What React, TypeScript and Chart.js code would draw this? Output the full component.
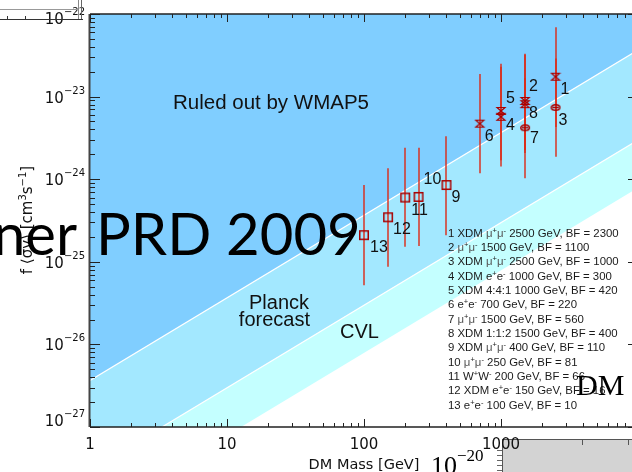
import React, { useEffect, useRef } from "react";
import { Chart, registerables } from "chart.js";

Chart.register(...registerables);

// ---------------- data ----------------
const POINT_LABELS = ["1", "2", "3", "4", "5", "6", "7", "8", "9", "10", "11", "12", "13"];
const DM_MASS_GEV = [2500, 1500, 2500, 1000, 1000, 700, 1500, 1500, 400, 250, 200, 150, 100];
const F_SIGMA_V = [1.74e-23, 8.85e-24, 7.4e-24, 5.7e-24, 6.7e-24, 4.7e-24, 4.2e-24, 8.1e-24, 8.5e-25, 6.1e-25, 6.0e-25, 3.46e-25, 2.1e-25];
const F_SIGMA_V_HIGH = [6.9e-23, 3.3e-23, 2.9e-23, 2.3e-23, 2.5e-23, 1.88e-23, 1.67e-23, 3.2e-23, 3.3e-24, 2.4e-24, 2.4e-24, 1.36e-24, 8.5e-25];
const F_SIGMA_V_LOW = [4.3e-24, 2.26e-24, 1.87e-24, 1.42e-24, 1.7e-24, 1.18e-24, 1.03e-24, 2.07e-24, 2.1e-25, 1.55e-25, 1.52e-25, 8.7e-26, 5.2e-26];
const MARKER_KIND = ["hourglass", "hourglass", "ellipse", "hourglass", "hourglass", "hourglass", "ellipse", "hourglass", "square", "square", "square", "square", "square"];

const LEGEND_ENTRIES = [
  "1 XDM μ^+μ^- 2500 GeV, BF = 2300",
  "2 μ^+μ^- 1500 GeV, BF = 1100",
  "3 XDM μ^+μ^- 2500 GeV, BF = 1000",
  "4 XDM e^+e^- 1000 GeV, BF = 300",
  "5 XDM 4:4:1 1000 GeV, BF = 420",
  "6 e^+e^- 700 GeV, BF = 220",
  "7 μ^+μ^- 1500 GeV, BF = 560",
  "8 XDM 1:1:2 1500 GeV, BF = 400",
  "9 XDM μ^+μ^- 400 GeV, BF = 110",
  "10 μ^+μ^- 250 GeV, BF = 81",
  "11 W^+W^- 200 GeV, BF = 66",
  "12 XDM e^+e^- 150 GeV, BF = 16",
  "13 e^+e^- 100 GeV, BF = 10",
];

// constraint bands: f<σv> limits at the band end masses
const BAND_MASS = [1, 10000];
const WMAP5_LIMIT = [3.66e-27, 3.66e-23];
const PLANCK_LIMIT = [2.98e-28, 2.98e-24];
const CVL_LIMIT = [7.9e-29, 7.9e-25];

const X_TICK_VALUES = [1, 10, 100, 1000];
const X_TICK_LABELS = ["1", "10", "100", "1000"];
const Y_TICK_EXPONENTS = [-22, -23, -24, -25, -26, -27];

// ---------------- styles / positions ----------------
const LABEL_DX = [5, 4, 3, 5, 5, 5, 5, 4, 5, 5, 6, 5, 6];
const LABEL_DY = [13, -14, 13, 9, -12, 13, 11, 9, 13, -17, 13, 12, 12];

const COL_RULED = "rgb(128,206,255)";
const COL_PLANCK = "rgb(163,232,255)";
const COL_CVL = "rgb(196,255,255)";
const MARKER_COLOR = "#a80000";
const ERR_COLOR = "rgba(220,40,20,0.7)";
const AXIS_FONT = '"DejaVu Sans", sans-serif';
const PLOT_FONT = '"Liberation Sans", Arial, sans-serif';

function makeMarker(kind: string): HTMLCanvasElement {
  const c = document.createElement("canvas");
  if (kind === "hourglass") {
    c.width = 12; c.height = 10;
  } else if (kind === "ellipse") {
    c.width = 12; c.height = 9;
  } else {
    c.width = 12; c.height = 12;
  }
  const g = c.getContext("2d")!;
  g.strokeStyle = MARKER_COLOR;
  g.lineWidth = kind === "hourglass" ? 1.2 : 1.5;
  g.beginPath();
  if (kind === "hourglass") {
    g.moveTo(2, 1.5); g.lineTo(10, 1.5); g.lineTo(2, 8.5); g.lineTo(10, 8.5); g.closePath();
  } else if (kind === "ellipse") {
    g.ellipse(6, 4.5, 4.3, 2.8, 0, 0, Math.PI * 2);
    g.moveTo(3, 4.5); g.lineTo(9, 4.5);
  } else {
    g.rect(1.75, 1.75, 8.5, 8.5);
  }
  g.stroke();
  return c;
}

function drawPow(ctx: CanvasRenderingContext2D, rightX: number, baseline: number, exp: number) {
  const base = "10";
  const sup = "\u2212" + String(Math.abs(exp));
  ctx.font = "15px " + AXIS_FONT;
  const wb = ctx.measureText(base).width;
  ctx.font = "10px " + AXIS_FONT;
  const ws = ctx.measureText(sup).width;
  const left = rightX - wb - ws;
  ctx.textAlign = "left";
  ctx.textBaseline = "alphabetic";
  ctx.font = "15px " + AXIS_FONT;
  ctx.fillText(base, left, baseline);
  ctx.font = "10px " + AXIS_FONT;
  ctx.fillText(sup, left + wb, baseline - 9);
}

const customPlugin = {
  id: "customDraw",
  beforeDatasetsDraw(chart: any) {
    const { ctx, chartArea: a, scales } = chart;
    const xs = scales.x, ys = scales.y;
    ctx.save();
    ctx.beginPath();
    ctx.rect(a.left, a.top, a.right - a.left, a.bottom - a.top);
    ctx.clip();
    const px = BAND_MASS.map((m) => xs.getPixelForValue(m));
    const py = (arr: number[]) => arr.map((v) => ys.getPixelForValue(v));
    const w = py(WMAP5_LIMIT), p = py(PLANCK_LIMIT), c = py(CVL_LIMIT);
    const poly = (pts: number[][], col: string) => {
      ctx.beginPath();
      ctx.moveTo(pts[0][0], pts[0][1]);
      for (let i = 1; i < pts.length; i++) ctx.lineTo(pts[i][0], pts[i][1]);
      ctx.closePath();
      ctx.fillStyle = col;
      ctx.fill();
    };
    poly([[px[0], a.top - 50], [px[1], a.top - 50], [px[1], w[1]], [px[0], w[0]]], COL_RULED);
    poly([[px[0], w[0]], [px[1], w[1]], [px[1], p[1]], [px[0], p[0]]], COL_PLANCK);
    poly([[px[0], p[0]], [px[1], p[1]], [px[1], c[1]], [px[0], c[0]]], COL_CVL);
    ctx.strokeStyle = "#ffffff";
    ctx.lineWidth = 1.2;
    for (const l of [w, p]) {
      ctx.beginPath();
      ctx.moveTo(px[0], l[0]);
      ctx.lineTo(px[1], l[1]);
      ctx.stroke();
    }
    // region labels
    ctx.fillStyle = "#111";
    ctx.textBaseline = "alphabetic";
    ctx.font = "20.5px " + PLOT_FONT;
    ctx.textAlign = "left";
    ctx.fillText("Ruled out by WMAP5", 173, 109);
    ctx.font = "20px " + PLOT_FONT;
    ctx.textAlign = "right";
    ctx.fillText("Planck", 309, 309);
    ctx.fillText("forecast", 310, 326);
    ctx.textAlign = "left";
    ctx.fillText("CVL", 340, 338);
    // error bars
    ctx.strokeStyle = ERR_COLOR;
    ctx.lineWidth = 2;
    for (let i = 0; i < DM_MASS_GEV.length; i++) {
      const x = Math.round(xs.getPixelForValue(DM_MASS_GEV[i]));
      ctx.beginPath();
      ctx.moveTo(x, ys.getPixelForValue(F_SIGMA_V_HIGH[i]));
      ctx.lineTo(x, ys.getPixelForValue(F_SIGMA_V_LOW[i]));
      ctx.stroke();
    }
    ctx.restore();
  },
  afterDatasetsDraw(chart: any) {
    const { ctx, chartArea: a, scales } = chart;
    const xs = scales.x, ys = scales.y;
    ctx.save();
    // point labels
    ctx.fillStyle = "#111";
    ctx.font = "16px " + PLOT_FONT;
    ctx.textAlign = "left";
    ctx.textBaseline = "middle";
    for (let i = 0; i < DM_MASS_GEV.length; i++) {
      const x = xs.getPixelForValue(DM_MASS_GEV[i]);
      const y = ys.getPixelForValue(F_SIGMA_V[i]);
      ctx.fillText(POINT_LABELS[i], x + LABEL_DX[i], y + LABEL_DY[i]);
    }
    // axes frame
    ctx.strokeStyle = "#222";
    ctx.lineWidth = 1.5;
    ctx.beginPath();
    ctx.moveTo(a.left, a.top); ctx.lineTo(a.right, a.top);
    ctx.moveTo(a.left, a.bottom); ctx.lineTo(a.right, a.bottom);
    ctx.moveTo(a.right, a.top); ctx.lineTo(a.right, a.bottom);
    ctx.stroke();
    ctx.strokeStyle = "#444";
    ctx.lineWidth = 2;
    ctx.beginPath();
    ctx.moveTo(a.left - 0.5, a.top); ctx.lineTo(a.left - 0.5, a.bottom);
    ctx.stroke();
    // ticks
    ctx.strokeStyle = "#222";
    ctx.lineWidth = 1;
    ctx.beginPath();
    for (let d = 0; d <= 4; d++) {
      for (let k = 1; k <= 9; k++) {
        const v = k * Math.pow(10, d);
        if (v < 1 || v > 10000) continue;
        const x = Math.round(xs.getPixelForValue(v)) + 0.5;
        const len = k === 1 ? 8 : 4;
        ctx.moveTo(x, a.bottom); ctx.lineTo(x, a.bottom - len);
        ctx.moveTo(x, a.top); ctx.lineTo(x, a.top + len);
      }
    }
    for (let d = -27; d <= -22; d++) {
      for (let k = 1; k <= 9; k++) {
        if (d === -22 && k > 1) continue;
        const v = k * Math.pow(10, d);
        const y = Math.round(ys.getPixelForValue(v)) + 0.5;
        const len = k === 1 ? 10 : 5;
        ctx.moveTo(a.left, y); ctx.lineTo(a.left + len, y);
        ctx.moveTo(a.right, y); ctx.lineTo(a.right - len, y);
      }
    }
    ctx.stroke();
    // tick labels
    ctx.fillStyle = "#111";
    for (const e of Y_TICK_EXPONENTS) {
      const y = ys.getPixelForValue(Math.pow(10, e));
      const base = Math.min(Math.max(y + 6, 24), 426);
      drawPow(ctx, a.left - 5, base, e);
    }
    ctx.font = "15px " + AXIS_FONT;
    ctx.textAlign = "center";
    ctx.textBaseline = "alphabetic";
    X_TICK_VALUES.forEach((v, i) => {
      ctx.fillText(X_TICK_LABELS[i], xs.getPixelForValue(v), 449);
    });
    ctx.font = "14.5px " + AXIS_FONT;
    ctx.fillText("DM Mass [GeV]", (a.left + xs.getPixelForValue(10000)) / 2, 469);
    ctx.restore();
  },
};

function LegendLine({ text }: { text: string }) {
  const parts = text.split(/(\^[+\-]|μ)/);
  return (
    <>
      {parts.map((p, i) => {
        if (p === "^+" || p === "^-")
          return (
            <span key={i} style={{ fontSize: 7.5, position: "relative", top: -4 }}>
              {p === "^+" ? "+" : "-"}
            </span>
          );
        if (p === "μ") return <span key={i} style={{ color: "#555" }}>μ</span>;
        return <span key={i}>{p}</span>;
      })}
    </>
  );
}

export default function App() {
  const ref = useRef<HTMLCanvasElement | null>(null);
  useEffect(() => {
    document.body.style.margin = "0";
    const canvas = ref.current!;
    const markers: Record<string, HTMLCanvasElement> = {
      hourglass: makeMarker("hourglass"),
      ellipse: makeMarker("ellipse"),
      square: makeMarker("square"),
    };
    const chart = new Chart(canvas, {
      type: "scatter",
      data: {
        datasets: [
          {
            data: DM_MASS_GEV.map((m, i) => ({ x: m, y: F_SIGMA_V[i] })),
            pointStyle: MARKER_KIND.map((k) => markers[k]) as any,
            pointRadius: 5,
            showLine: false,
          },
        ],
      },
      options: {
        responsive: false,
        animation: false,
        events: [],
        layout: { padding: { left: 90, right: 22, top: 14, bottom: 45 } },
        plugins: { legend: { display: false }, tooltip: { enabled: false } },
        scales: {
          x: { type: "logarithmic", min: 1, max: 10000, display: false },
          y: { type: "logarithmic", min: 1e-27, max: 1e-22, display: false },
        },
      },
      plugins: [customPlugin],
    });
    return () => chart.destroy();
  }, []);

  const abs = (s: React.CSSProperties): React.CSSProperties => ({ position: "absolute", ...s });

  return (
    <div style={{ position: "fixed", left: 0, top: 0, width: 632, height: 472, overflow: "hidden", background: "#fff" }}>
      {/* grey panel at lower right (behind chart) */}
      <div style={abs({ left: 502, top: 439, width: 130, height: 33, background: "#d3d3d3", borderTop: "1px solid #555", borderLeft: "1px solid #555" })} />
      <div style={abs({ left: 582, top: 440, width: 1, height: 5, background: "#555" })} />
      <div style={abs({ left: 628, top: 440, width: 1, height: 5, background: "#555" })} />
      {[450, 455, 460, 465, 470].map((y) => (
        <div key={y} style={abs({ left: 497, top: y, width: 5, height: 1, background: "#666" })} />
      ))}
      <canvas ref={ref} width={660} height={472} style={abs({ left: 0, top: 0, width: 660, height: 472 })} />
      {/* y axis title */}
      <div
        style={abs({
          left: 27,
          top: 220,
          transform: "translate(-50%, -50%) rotate(-90deg)",
          whiteSpace: "nowrap",
          font: '15px "DejaVu Sans", sans-serif',
          color: "#111",
        })}
      >
        f ⟨σv⟩ [cm<span style={{ fontSize: 10, position: "relative", top: -6 }}>3</span>s
        <span style={{ fontSize: 10, position: "relative", top: -6 }}>−1</span>]
      </div>
      {/* legend */}
      {LEGEND_ENTRIES.map((t, i) => (
        <div
          key={i}
          style={abs({
            left: 448,
            top: 232.7 - 7 + i * 14.33,
            lineHeight: "14px",
            fontSize: 11.4,
            fontFamily: PLOT_FONT,
            color: "#1a1a1a",
            whiteSpace: "nowrap",
          })}
        >
          <LegendLine text={t} />
        </div>
      ))}
      {/* top-left frame fragment */}
      <div style={abs({ left: 0, top: 9, width: 78, height: 1, background: "#999" })} />
      <div style={abs({ left: 78, top: 0, width: 1, height: 19, background: "#888" })} />
      <div style={abs({ left: 81, top: 0, width: 1, height: 19, background: "#666" })} />
      <div style={abs({ left: 0, top: 19, width: 83, height: 1, background: "#333" })} />
      <div style={abs({ left: 7, top: 16, width: 1, height: 3, background: "#333" })} />
      <div style={abs({ left: 25, top: 16, width: 1, height: 3, background: "#333" })} />
      {/* overlaid slide text */}
      <div style={abs({ right: 632 - 77, top: 203, font: '58px Lato, sans-serif', lineHeight: "60px", color: "#000", whiteSpace: "nowrap" })}>ner</div>
      <div style={abs({ left: 96, top: 203, font: '58px Lato, sans-serif', lineHeight: "60px", color: "#000", whiteSpace: "nowrap" })}>PRD 2009</div>
      <div style={abs({ left: 576, top: 370, font: '30px "Liberation Serif", serif', lineHeight: "30px", color: "#000", whiteSpace: "nowrap" })}>DM Mass</div>
      <div style={abs({ left: 431, top: 453, font: '26px "Liberation Serif", serif', lineHeight: "26px", color: "#000", whiteSpace: "nowrap" })}>10</div>
      <div style={abs({ left: 457, top: 447, font: '17px "Liberation Serif", serif', lineHeight: "17px", color: "#000", whiteSpace: "nowrap" })}>−20</div>
    </div>
  );
}
